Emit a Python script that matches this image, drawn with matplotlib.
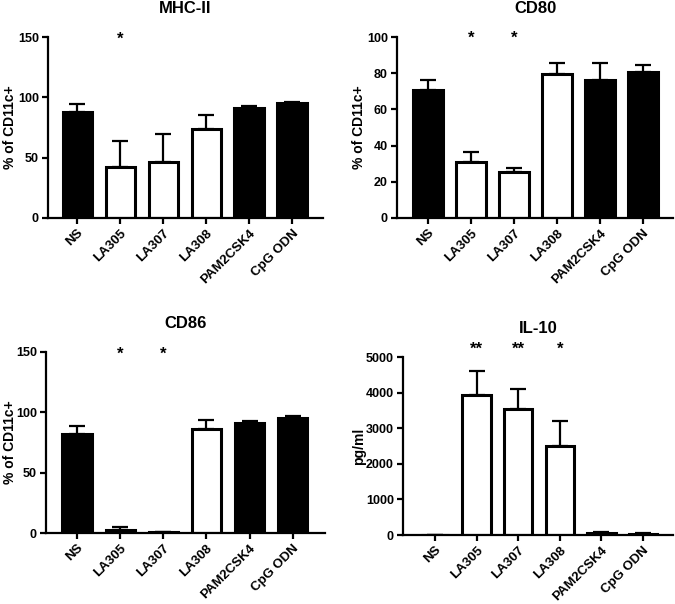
import matplotlib
matplotlib.use("Agg")
import matplotlib.pyplot as plt
import numpy as np

plt.rcParams['font.family'] = ['Liberation Sans', 'DejaVu Sans']
plt.rcParams['font.weight'] = 'bold'

# data
groups = ["NS", "LA305", "LA307", "LA308", "PAM2CSK4", "CpG ODN"]
filled = [True, False, False, False, True, True]

mhc_mean = [88, 42, 46, 74, 91, 95]
mhc_err = [6.5, 22, 24, 11, 2, 1]
mhc_stars = ["", "*", "", "", "", ""]

cd80_mean = [70.5, 31, 25.5, 79.5, 76, 80.5]
cd80_err = [5.5, 5.5, 2, 6, 9.5, 4]
cd80_stars = ["", "*", "*", "", "", ""]

cd86_mean = [82, 2.5, 0.5, 86, 91, 95.5]
cd86_err = [6.5, 2.5, 0.5, 8, 1.5, 1.5]
cd86_stars = ["", "*", "*", "", "", ""]

il10_mean = [0, 3930, 3550, 2510, 60, 30]
il10_err = [0, 680, 550, 700, 20, 30]
il10_stars = ["", "**", "**", "*", "", ""]

W, H = 675, 604
fig = plt.figure(figsize=(W / 100, H / 100), dpi=100)


def px_axes(x0, y0, x1, y1):
    # pixel box (left, top, right, bottom) -> figure fraction
    return fig.add_axes([x0 / W, 1 - y1 / H, (x1 - x0) / W, (y1 - y0) / H])


def panel(ax, mean, err, stars, title, ylabel, ymax, ystep, star_y, xlim, label_x):
    x = np.arange(len(groups))
    colors = ['black' if f else 'white' for f in filled]
    ax.errorbar(x, mean, yerr=[np.zeros(len(x)), err], fmt='none',
                ecolor='black', elinewidth=1.6, capsize=5.5, capthick=1.6, zorder=1)
    ax.bar(x, mean, width=0.68, color=colors, edgecolor='black',
           linewidth=2.2, zorder=2)
    for xi, s in zip(x, stars):
        if s:
            ax.text(xi, star_y, s, ha='center', va='center', fontsize=12,
                    fontweight='bold', clip_on=False)
    ax.set_xlim(*xlim)
    ax.set_ylim(0, ymax)
    ax.set_yticks(np.arange(0, ymax + 1, ystep))
    ax.set_xticks(x)
    ax.set_xticklabels(groups, rotation=45, ha='right', rotation_mode='anchor',
                       fontsize=9.5, fontweight='bold')
    for lab in ax.get_yticklabels():
        lab.set_fontsize(9)
        lab.set_fontweight('bold')
    ax.spines['top'].set_visible(False)
    ax.spines['right'].set_visible(False)
    ax.spines['left'].set_linewidth(1.6)
    ax.spines['bottom'].set_linewidth(1.6)
    ax.tick_params(axis='both', width=1.6, length=4.5, direction='out', pad=2)
    ax.set_title(title, fontsize=12, fontweight='bold', pad=17)
    ax.set_ylabel(ylabel, fontsize=10, fontweight='bold')
    ax.yaxis.set_label_coords(label_x, 0.5)


ax1 = px_axes(48, 37, 323, 218)
panel(ax1, mhc_mean, mhc_err, mhc_stars, "MHC-II", "% of CD11c+",
      150, 50, 148, (-0.68, 5.72), -0.112)

ax2 = px_axes(397, 37, 673, 218)
panel(ax2, cd80_mean, cd80_err, cd80_stars, "CD80", "% of CD11c+",
      100, 20, 99.5, (-0.72, 5.7), -0.112)

ax3 = px_axes(46, 352, 325, 533)
panel(ax3, cd86_mean, cd86_err, cd86_stars, "CD86", "% of CD11c+",
      150, 50, 148, (-0.72, 5.75), -0.104)

ax4 = px_axes(403, 357, 673, 535)
panel(ax4, il10_mean, il10_err, il10_stars, "IL-10", "pg/ml",
      5000, 1000, 5230, (-0.77, 5.72), -0.137)

fig.savefig("out.png", dpi=100)
